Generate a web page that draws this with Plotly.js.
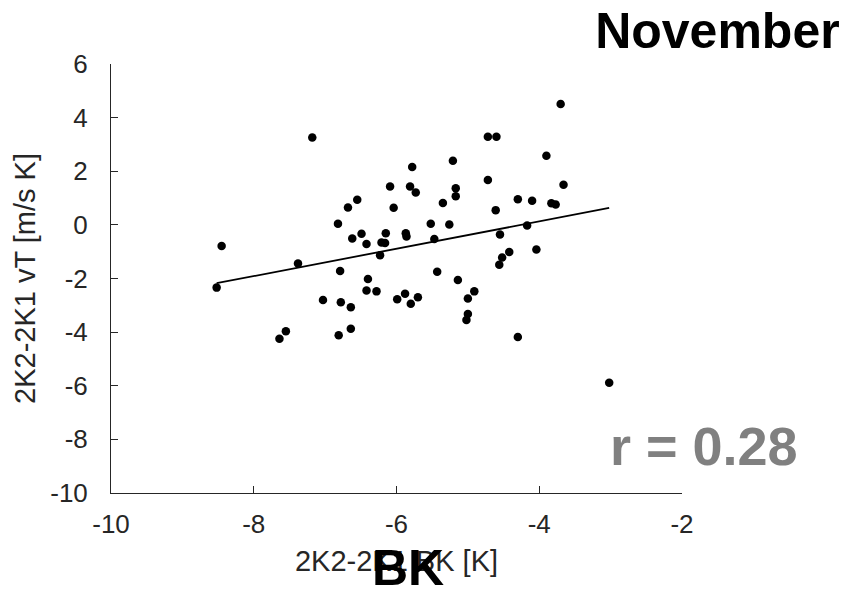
<!DOCTYPE html>
<html>
<head>
<meta charset="utf-8">
<script src="https://cdn.plot.ly/plotly-3.0.1.min.js"></script>
<style>
  html, body { margin: 0; padding: 0; background: #fff; }
  #chart { width: 846px; height: 595px; }
</style>
</head>
<body>
<div id="chart"></div>
<script>
// November: 2K2-2K1 BK index against 2K2-2K1 heat flux vT, one point per year
const bkDiff = [
  -7.18, -5.78, -6.09, -5.81, -5.73, -6.55, -6.68, -6.04, -6.82, -5.52,
  -6.49, -6.62, -6.15, -5.87, -5.86, -6.42, -6.21, -6.16, -5.47, -8.45,
  -6.23, -7.38, -5.43, -6.79, -8.52, -6.40, -6.42, -6.28, -7.03, -6.78,
  -6.64, -5.99, -5.88, -5.80, -5.70, -7.55, -7.64, -6.81, -6.64,
  -3.70, -4.72, -4.60, -5.21, -3.90, -4.72, -3.66, -5.17, -5.17, -5.35,
  -4.30, -4.10, -4.61, -3.83, -3.77, -5.26, -4.17, -4.55, -4.04, -4.42,
  -4.52, -4.56, -5.14, -4.91, -5.00, -5.00, -5.02, -4.30, -3.02
];
const vtDiff = [
   3.26,  2.16,  1.43,  1.43,  1.21,  0.94,  0.65,  0.64,  0.04,  0.04,
  -0.33, -0.51, -0.31, -0.31, -0.43, -0.71, -0.66, -0.68, -0.53, -0.79,
  -1.13, -1.44, -1.75, -1.72, -2.34, -2.02, -2.45, -2.48, -2.80, -2.89,
  -3.07, -2.77, -2.57, -2.94, -2.70, -3.97, -4.25, -4.12, -3.87,
   4.51,  3.29,  3.29,  2.39,  2.58,  1.67,  1.50,  1.37,  1.07,  0.82,
   0.96,  0.90,  0.55,  0.81,  0.76,  0.01, -0.02, -0.36, -0.92, -1.01,
  -1.22, -1.49, -2.06, -2.48, -2.75, -3.32, -3.55, -4.18, -5.89
];

const monthName = 'November';
const predictorName = 'BK';
const corrLabel = 'r = 0.28';
const xTickVals = [-10, -8, -6, -4, -2];
const xTickText = ['-10', '-8', '-6', '-4', '-2'];
const yTickVals = [-10, -8, -6, -4, -2, 0, 2, 4, 6];
const yTickText = ['-10', '-8', '-6', '-4', '-2', '0', '2', '4', '6'];

// least-squares fit, drawn over the range of the data
function linearFit(xs, ys) {
  const n = xs.length;
  const mx = xs.reduce((a, b) => a + b, 0) / n;
  const my = ys.reduce((a, b) => a + b, 0) / n;
  let sxy = 0, sxx = 0;
  for (let i = 0; i < n; i++) {
    sxy += (xs[i] - mx) * (ys[i] - my);
    sxx += (xs[i] - mx) * (xs[i] - mx);
  }
  const slope = sxy / sxx;
  return { slope: slope, intercept: my - slope * mx };
}
const fit = linearFit(bkDiff, vtDiff);
const xMin = Math.min.apply(null, bkDiff);
const xMax = Math.max.apply(null, bkDiff);
const fitX = [xMin, xMax];
const fitY = fitX.map(v => fit.intercept + fit.slope * v);

const FONT = '"Liberation Sans", Arial, Helvetica, sans-serif';
const AXIS_COLOR = '#262626';

const traces = [
  {
    x: bkDiff, y: vtDiff, type: 'scatter', mode: 'markers',
    marker: { color: '#000', size: 8.5, line: { width: 0 } },
    hoverinfo: 'x+y'
  },
  {
    x: fitX, y: fitY, type: 'scatter', mode: 'lines',
    line: { color: '#000', width: 1.8 },
    hoverinfo: 'skip'
  }
];

const axisCommon = {
  showgrid: false, zeroline: false, showline: true,
  linecolor: AXIS_COLOR, linewidth: 1,
  ticks: 'inside', ticklen: 7, tickwidth: 1, tickcolor: AXIS_COLOR,
  tickfont: { family: FONT, size: 26, color: '#262626' },
  mirror: false
};

const layout = {
  width: 846, height: 595,
  margin: { l: 111, r: 164, t: 64, b: 102, pad: 0 },
  paper_bgcolor: '#fff', plot_bgcolor: '#fff',
  showlegend: false,
  font: { family: FONT, color: '#000' },
  title: {
    text: '<b>' + monthName + '</b>',
    font: { family: FONT, size: 50, color: '#000' },
    xref: 'container', yref: 'container',
    x: 0.848, xanchor: 'center', y: 0.948, yanchor: 'middle'
  },
  xaxis: Object.assign({}, axisCommon, {
    range: [-10, -2], tickvals: xTickVals, ticktext: xTickText,
    ticklabelstandoff: 8,
    title: { text: '2K2-2K1 ' + predictorName + ' [K]', font: { family: FONT, size: 29, color: '#262626' }, standoff: 12 }
  }),
  yaxis: Object.assign({}, axisCommon, {
    range: [-10, 6], tickvals: yTickVals, ticktext: yTickText,
    ticklabelstandoff: 17,
    title: { text: '2K2-2K1 vT [m/s K]', font: { family: FONT, size: 29, color: '#262626' }, standoff: 6 }
  }),
  annotations: [
    {
      text: '<b>' + corrLabel + '</b>', xref: 'paper', yref: 'paper',
      x: 1.038, y: 0.11, xanchor: 'center', yanchor: 'middle', showarrow: false,
      font: { family: FONT, size: 54, color: '#808080' }
    },
    {
      text: '<b>' + predictorName + '</b>', xref: 'paper', yref: 'paper',
      x: 0.521, y: -0.105, xanchor: 'center', yanchor: 'top', showarrow: false,
      font: { family: FONT, size: 50, color: '#000' }
    }
  ]
};

Plotly.newPlot('chart', traces, layout, { staticPlot: true, displayModeBar: false });
</script>
</body>
</html>
